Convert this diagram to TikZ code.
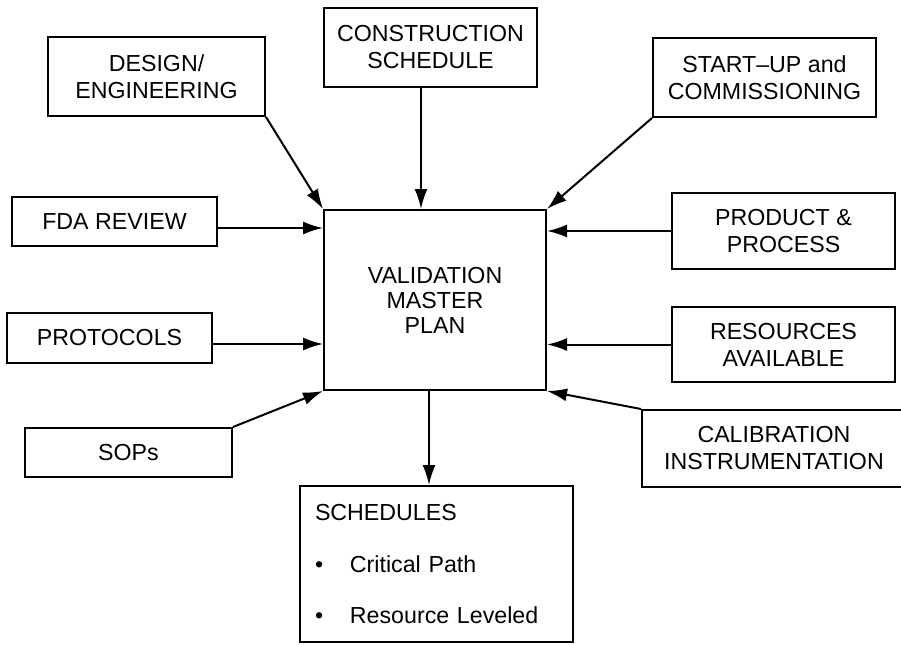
\documentclass[tikz,border=0pt]{standalone}
\usepackage{fontspec}
\setmainfont{Liberation Sans}
\usetikzlibrary{arrows.meta}
\begin{document}
\begin{tikzpicture}[x=0.5pt,y=-0.5pt,
  box/.style={draw, line width=1pt, inner sep=0pt, align=center,
    font=\fontsize{11.6pt}{13.5pt}\selectfont},
  arr/.style={line width=1pt, -{Latex[length=10pt,width=6.5pt]}}]
\path[use as bounding box, clip] (0,0) rectangle (901,644);
\node[box, minimum width=108.5pt, minimum height=39.5pt] (design) at (156.5,76.5) {DESIGN/\\ENGINEERING};
\node[box, minimum width=106.5pt, minimum height=39.5pt] (constr) at (430.5,47.5) {CONSTRUCTION\\SCHEDULE};
\node[box, minimum width=111.5pt, minimum height=39.5pt] (startup) at (764.5,77.5) {START–UP and\\COMMISSIONING};
\node[box, minimum width=102.5pt, minimum height=24.5pt] (fda) at (114.5,221.5) {FDA REVIEW};
\node[box, minimum width=102.5pt, minimum height=25pt] (protocols) at (109.5,338) {PROTOCOLS};
\node[box, minimum width=103.5pt, minimum height=24.5pt] (sops) at (128.5,452.5) {SOPs};
\node[box, minimum width=111pt, minimum height=90pt, font=\fontsize{11.6pt}{12.5pt}\selectfont] (vmp) at (435,300) {VALIDATION\\MASTER\\PLAN};
\node[box, minimum width=111.5pt, minimum height=38pt] (product) at (783.5,231) {PRODUCT \&\\PROCESS};
\node[box, minimum width=111.5pt, minimum height=37.5pt] (resources) at (783.5,344.5) {RESOURCES\\AVAILABLE};
\node[box, minimum width=132pt, minimum height=38.5pt] (calib) at (774,448.5) {CALIBRATION\\INSTRUMENTATION};
\node[box, minimum width=136.5pt, minimum height=78pt, inner xsep=7.5pt, text width=121.5pt, align=left] (schedules) at (436.5,564)
  {SCHEDULES\\[12.5pt]\makebox[17.5pt][l]{•}Critical Path\\[12pt]\makebox[17.5pt][l]{•}Resource Leveled};
\coordinate (fdaout) at ([yshift=-3.25pt]fda.east);
\coordinate (protout) at ([yshift=-3pt]protocols.east);
\coordinate (cout) at ([xshift=-4.75pt]constr.south);
\coordinate (vout) at ([xshift=-3pt]vmp.south);
\draw[arr] (design.south east) -- (vmp.north west);
\draw[arr] (cout) -- (vmp.north -| cout);
\draw[arr] (startup.south west) -- (vmp.north east);
\draw[arr] (fdaout) -- (vmp.west |- fdaout);
\draw[arr] (protout) -- (vmp.west |- protout);
\draw[arr] (sops.north east) -- (vmp.south west);
\draw[arr] (product.west) -- (vmp.east |- product.west);
\draw[arr] (resources.west) -- (vmp.east |- resources.west);
\draw[arr] (calib.north west) -- (vmp.south east);
\draw[arr] (vout) -- (schedules.north -| vout);
\end{tikzpicture}
\end{document}
